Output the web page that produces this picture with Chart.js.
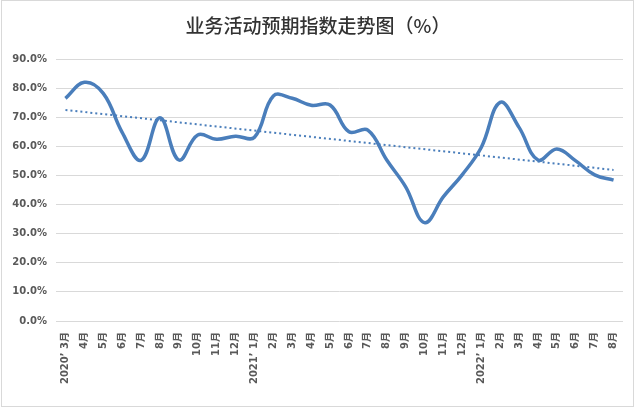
<!DOCTYPE html>
<html>
<head>
<meta charset="utf-8">
<script src="https://cdn.jsdelivr.net/npm/chart.js@4/dist/chart.umd.min.js"></script>
<style>
  html, body { margin: 0; padding: 0; background: #fff; }
  #wrap { width: 640px; height: 408px; position: relative; }
</style>
</head>
<body>
<div id="wrap"><canvas id="c" width="640" height="408"></canvas></div>
<script>
const titleText = '业务活动预期指数走势图（%）';
const categories = [
  '2020’ 3月','4月','5月','6月','7月','8月','9月','10月','11月','12月',
  '2021’ 1月','2月','3月','4月','5月','6月','7月','8月','9月','10月','11月','12月',
  '2022’ 1月','2月','3月','4月','5月','6月','7月','8月'
];
const expectValues = [
  76.5, 82.0, 78.2, 64.8, 55.2, 69.8, 55.3, 63.9, 62.4, 63.5,
  63.1, 77.3, 76.5, 74.1, 74.2, 65.0, 65.6, 55.3, 46.1, 33.8,
  42.7, 50.3, 59.6, 75.1, 66.5, 55.3, 59.1, 55.0, 50.2, 48.4
];
const trendValues = [72.5].concat(new Array(28).fill(null), [51.9]);
const yTicks = [0, 10, 20, 30, 40, 50, 60, 70, 80, 90];

const framePlugin = {
  id: 'frame',
  beforeDraw(chart) {
    const ctx = chart.ctx;
    ctx.save();
    ctx.fillStyle = '#fff';
    ctx.fillRect(0, 0, chart.width, chart.height);
    ctx.strokeStyle = '#d9d9d9';
    ctx.lineWidth = 1;
    ctx.strokeRect(1.5, 0.5, 632, 406);
    ctx.fillStyle = '#333333';
    ctx.font = '500 19px "Noto Sans CJK SC", sans-serif';
    ctx.textAlign = 'center';
    ctx.textBaseline = 'middle';
    ctx.fillText(titleText, 318, 26);
    ctx.restore();
  }
};

new Chart(document.getElementById('c'), {
  type: 'line',
  data: {
    labels: categories,
    datasets: [
      {
        data: expectValues,
        borderColor: '#4a7ebb',
        borderWidth: 3.5,
        pointRadius: 0,
        tension: 0.4,
        fill: false
      },
      {
        data: trendValues,
        borderColor: '#4a7ebb',
        borderWidth: 2,
        borderDash: [2, 3],
        pointRadius: 0,
        spanGaps: true,
        fill: false
      }
    ]
  },
  options: {
    responsive: false,
    animation: false,
    layout: { padding: { left: 0, right: 17, top: 59, bottom: 0 } },
    plugins: {
      legend: { display: false },
      title: { display: false },
      tooltip: { enabled: false }
    },
    scales: {
      x: {
        offset: true,
        grid: { display: false, drawTicks: false },
        border: { display: false },
        afterFit(scale) { scale.height = 87; },
        ticks: {
          autoSkip: false,
          minRotation: 90,
          maxRotation: 90,
          padding: 11,
          color: '#595959',
          font: { family: '"DejaVu Sans", "Noto Sans CJK SC", sans-serif', size: 10, weight: 'bold' }
        }
      },
      y: {
        min: 0,
        max: 90,
        afterFit(scale) { scale.width = 56; },
        afterBuildTicks(scale) { scale.ticks = yTicks.map(v => ({ value: v })); },
        grid: { color: '#d9d9d9', lineWidth: 1, drawTicks: false },
        border: { display: false },
        ticks: {
          padding: 9,
          color: '#595959',
          font: { family: '"DejaVu Sans", sans-serif', size: 10, weight: 'bold' },
          callback: v => v.toFixed(1) + '%'
        }
      }
    }
  },
  plugins: [framePlugin]
});
</script>
</body>
</html>
